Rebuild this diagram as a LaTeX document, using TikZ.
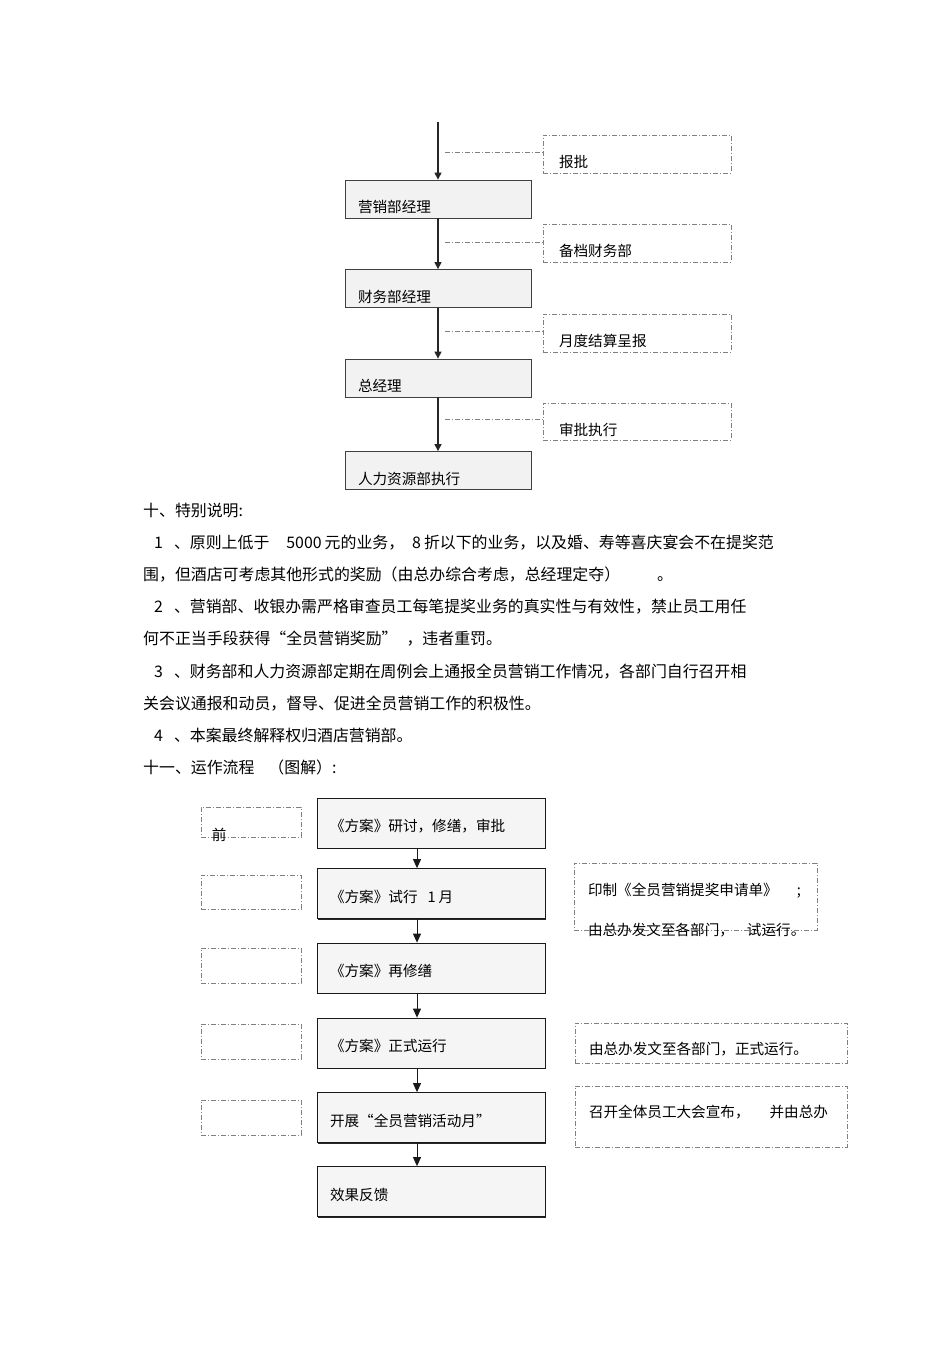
\documentclass[tikz,border=0pt]{standalone}
\usepackage{fontspec}
\setmainfont{Noto Sans CJK SC}
\usetikzlibrary{arrows.meta,shadows}

\begin{document}
\begin{tikzpicture}[x=1pt,y=-1pt,
	every node/.style={inner sep=0pt},
	boxtext/.style={font=\fontsize{14.6pt}{17.5pt}\selectfont},
	partext/.style={font=\fontsize{15.9pt}{19pt}\selectfont,anchor=west,text height=13pt,text depth=2pt},
	dotline/.style={draw=black!50,line width=0.6pt,dash pattern=on 5pt off 2pt on 1pt off 2pt},
	topbox/.style={boxtext,draw=black!75,fill=black!5,line width=0.8pt,inner xsep=13pt,text width=160pt,align=left,minimum height=38pt,text height=27pt,text depth=0pt},
	notebox/.style={boxtext,dotline,inner xsep=16pt,text width=156pt,align=left,minimum height=38pt,text height=27pt,text depth=0pt},
	flowbox/.style={boxtext,draw=black!90,fill=black!4,line width=0.8pt,inner xsep=13pt,text width=202pt,align=left,minimum height=50pt,text height=17pt,text depth=0pt,
		drop shadow={shadow xshift=1pt,shadow yshift=-1pt,fill=black!85,opacity=1}},
	sidebox/.style={dotline,minimum width=100pt},
	notebox2/.style={boxtext,dotline,inner xsep=14pt,align=left},
	flow/.style={-{Triangle[width=7pt,length=7pt]},line width=1.2pt,black!85},
	flow2/.style={-{Triangle[width=8pt,length=9pt]},line width=1pt,black!90}]
	\path[use as bounding box,fill=white] (0,0) rectangle (950,1345);

	\node[topbox] (mgr) at (438,199) {营销部经理};
	\node[topbox] (fin) at (438,288.5) {财务部经理};
	\node[topbox] (gm) at (438,378) {总经理};
	\node[topbox] (hr) at (438,470.5) {人力资源部执行};
	\node[notebox] (rep) at (637,154) {报批};
	\node[notebox] (arch) at (637,243) {备档财务部};
	\node[notebox] (mon) at (637,333) {月度结算呈报};
	\node[notebox,minimum height=37pt] (appr) at (637,421.5) {审批执行};
	\coordinate (start) at (438,122);
	\coordinate (c1) at (445,152);
	\coordinate (c2) at (445,242);
	\coordinate (c3) at (445,331);
	\coordinate (c4) at (445,419);
	\draw[flow] (start) -- (mgr);
	\draw[flow] (mgr) -- (fin);
	\draw[flow] (fin) -- (gm);
	\draw[flow] (gm) -- (hr);
	\draw[dotline] (c1) -- (c1 -| rep.west);
	\draw[dotline] (c2) -- (c2 -| arch.west);
	\draw[dotline] (c3) -- (c3 -| mon.west);
	\draw[dotline] (c4) -- (c4 -| appr.west);

	\node[partext] (sec10) at (143,510.5) {十、特别说明:};
	\node[partext] (p1a) at (154,542.7) {1\hspace{11pt}、原则上低于\hspace{17pt}5000\hspace{3pt}元的业务，\hspace{8pt}8\hspace{3pt}折以下的业务，以及婚、寿等喜庆宴会不在提奖范};
	\node[partext] (p1b) at (143,574.9) {围，但酒店可考虑其他形式的奖励（由总办综合考虑，总经理定夺）\hspace{37pt}。};
	\node[partext] (p2a) at (154,607.1) {2\hspace{11pt}、营销部、收银办需严格审查员工每笔提奖业务的真实性与有效性，禁止员工用任};
	\node[partext] (p2b) at (143,639.3) {何不正当手段获得“全员营销奖励”\hspace{9pt}，违者重罚。};
	\node[partext] (p3a) at (154,671.5) {3\hspace{11pt}、财务部和人力资源部定期在周例会上通报全员营销工作情况，各部门自行召开相};
	\node[partext] (p3b) at (143,703.7) {关会议通报和动员，督导、促进全员营销工作的积极性。};
	\node[partext] (p4) at (154,735.9) {4\hspace{11pt}、本案最终解释权归酒店营销部。};
	\node[partext] (sec11) at (143,768.1) {十一、运作流程\hspace{14pt}（图解）:};

	\node[flowbox] (s1) at (431,823) {《方案》研讨，修缮，审批};
	\node[flowbox] (s2) at (431,893.5) {《方案》试行\hspace{10pt}1\hspace{3pt}月};
	\node[flowbox] (s3) at (431,968) {《方案》再修缮};
	\node[flowbox] (s4) at (431,1043) {《方案》正式运行};
	\node[flowbox] (s5) at (431,1117.5) {开展“全员营销活动月”};
	\node[flowbox] (s6) at (431,1191.5) {效果反馈};
	\coordinate (ax) at (417,0);
	\draw[flow2] (s1.south -| ax) -- (s2.north -| ax);
	\draw[flow2] (s2.south -| ax) -- (s3.north -| ax);
	\draw[flow2] (s3.south -| ax) -- (s4.north -| ax);
	\draw[flow2] (s4.south -| ax) -- (s5.north -| ax);
	\draw[flow2] (s5.south -| ax) -- (s6.north -| ax);

	\node[sidebox,minimum height=30pt,label={[boxtext,anchor=base west,inner sep=0pt,xshift=11pt,yshift=-3.6pt]south west:前}] (l1) at (251,822) {};
	\node[sidebox,minimum height=34pt] (l2) at (251,892) {};
	\node[sidebox,minimum height=35pt] (l3) at (251,965.5) {};
	\node[sidebox,minimum height=35pt] (l4) at (251,1041.5) {};
	\node[sidebox,minimum height=35pt] (l5) at (251,1117.5) {};

	\node[notebox2,font=\fontsize{14.6pt}{40pt}\selectfont,text width=215pt,minimum height=67pt,text height=0pt,text depth=1.8pt] (r1) at (695.5,896.5) {\mbox{印制《全员营销提奖申请单》\hspace{19pt};}\\\mbox{由总办发文至各部门，\hspace{13pt}试运行。}};
	\node[notebox2,text width=244pt,minimum height=40pt,text height=23pt,text depth=0pt] (r2) at (711,1043) {由总办发文至各部门，正式运行。};
	\node[notebox2,text width=244pt,minimum height=61pt,text height=2.2pt,text depth=0pt] (r3) at (711,1116.5) {召开全体员工大会宣布，\hspace{20pt}并由总办};
\end{tikzpicture}
\end{document}
